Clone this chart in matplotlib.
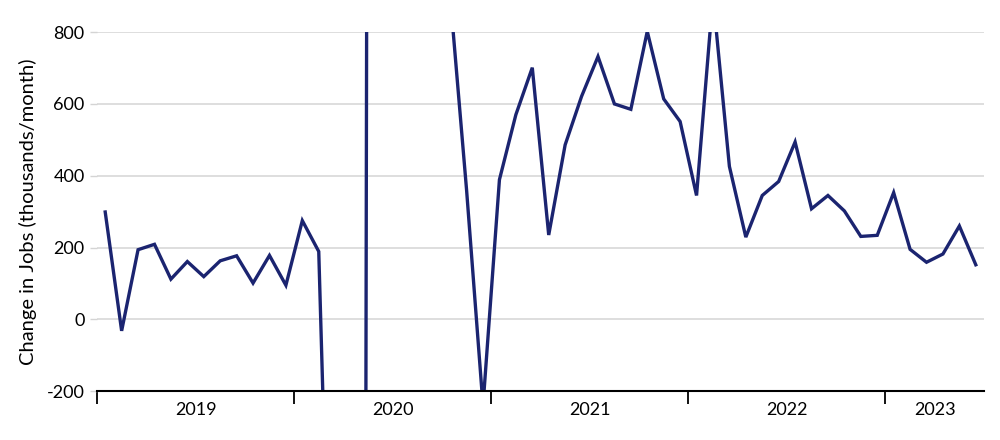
import numpy as np
import matplotlib.pyplot as plt

plt.rcParams['font.family'] = ['Lato', 'DejaVu Sans']

# monthly change in payrolls, thousands, Jan 2019 - Jun 2023
jobs_2019 = [299, -32, 194, 209, 112, 161, 119, 163, 177, 101, 178, 95]
jobs_2020 = [275, 189, -1400, -20500, 2800, 4600, 1700, 1500, 1200, 900, 360, -240]
jobs_2021 = [389, 570, 701, 235, 486, 621, 732, 600, 585, 802, 614, 551]
jobs_2022 = [345, 900, 426, 229, 345, 384, 494, 308, 345, 302, 231, 234]
jobs_2023 = [353, 195, 159, 182, 260, 152]

years = ['2019', '2020', '2021', '2022', '2023']
y_ticks = [-200, 0, 200, 400, 600, 800]

values = np.array(jobs_2019 + jobs_2020 + jobs_2021 + jobs_2022 + jobs_2023)
months = np.arange(len(values)) + 0.5

fig = plt.figure(figsize=(10, 4.4), dpi=100)
ax = fig.add_axes([0.097, 0.111, 0.887, 0.816])

ax.plot(months, values, color='#1b2470', linewidth=2.4, solid_joinstyle='miter')

ax.set_xlim(0, len(values))
ax.set_ylim(-200, 800)
ax.set_yticks(y_ticks)
ax.set_yticklabels([str(t) for t in y_ticks], fontsize=13)
for t in y_ticks[1:]:
    ax.axhline(t, color='#d4d4d4', linewidth=1.1, zorder=0)

# year boundaries as major ticks, year names centred on minor ticks
bounds = np.arange(0, len(values), 12)
ax.set_xticks(bounds)
ax.set_xticklabels([''] * len(bounds))
centers = [min(b + 6, (b + len(values)) / 2) for b in bounds]
ax.set_xticks(centers, minor=True)
ax.set_xticklabels(years, minor=True, fontsize=13)
ax.tick_params(axis='x', which='major', length=9, width=1.3, color='black', direction='out')
ax.tick_params(axis='x', which='minor', length=0, pad=8)
ax.tick_params(axis='y', length=5, width=1, color='#d4d4d4', pad=4)

for s in ['top', 'right', 'left']:
    ax.spines[s].set_visible(False)
ax.spines['bottom'].set_linewidth(1.5)
ax.spines['bottom'].set_color('black')

ax.set_ylabel('Change in Jobs (thousands/month)', fontsize=14.5, labelpad=7)

fig.savefig('out.png', dpi=100)
